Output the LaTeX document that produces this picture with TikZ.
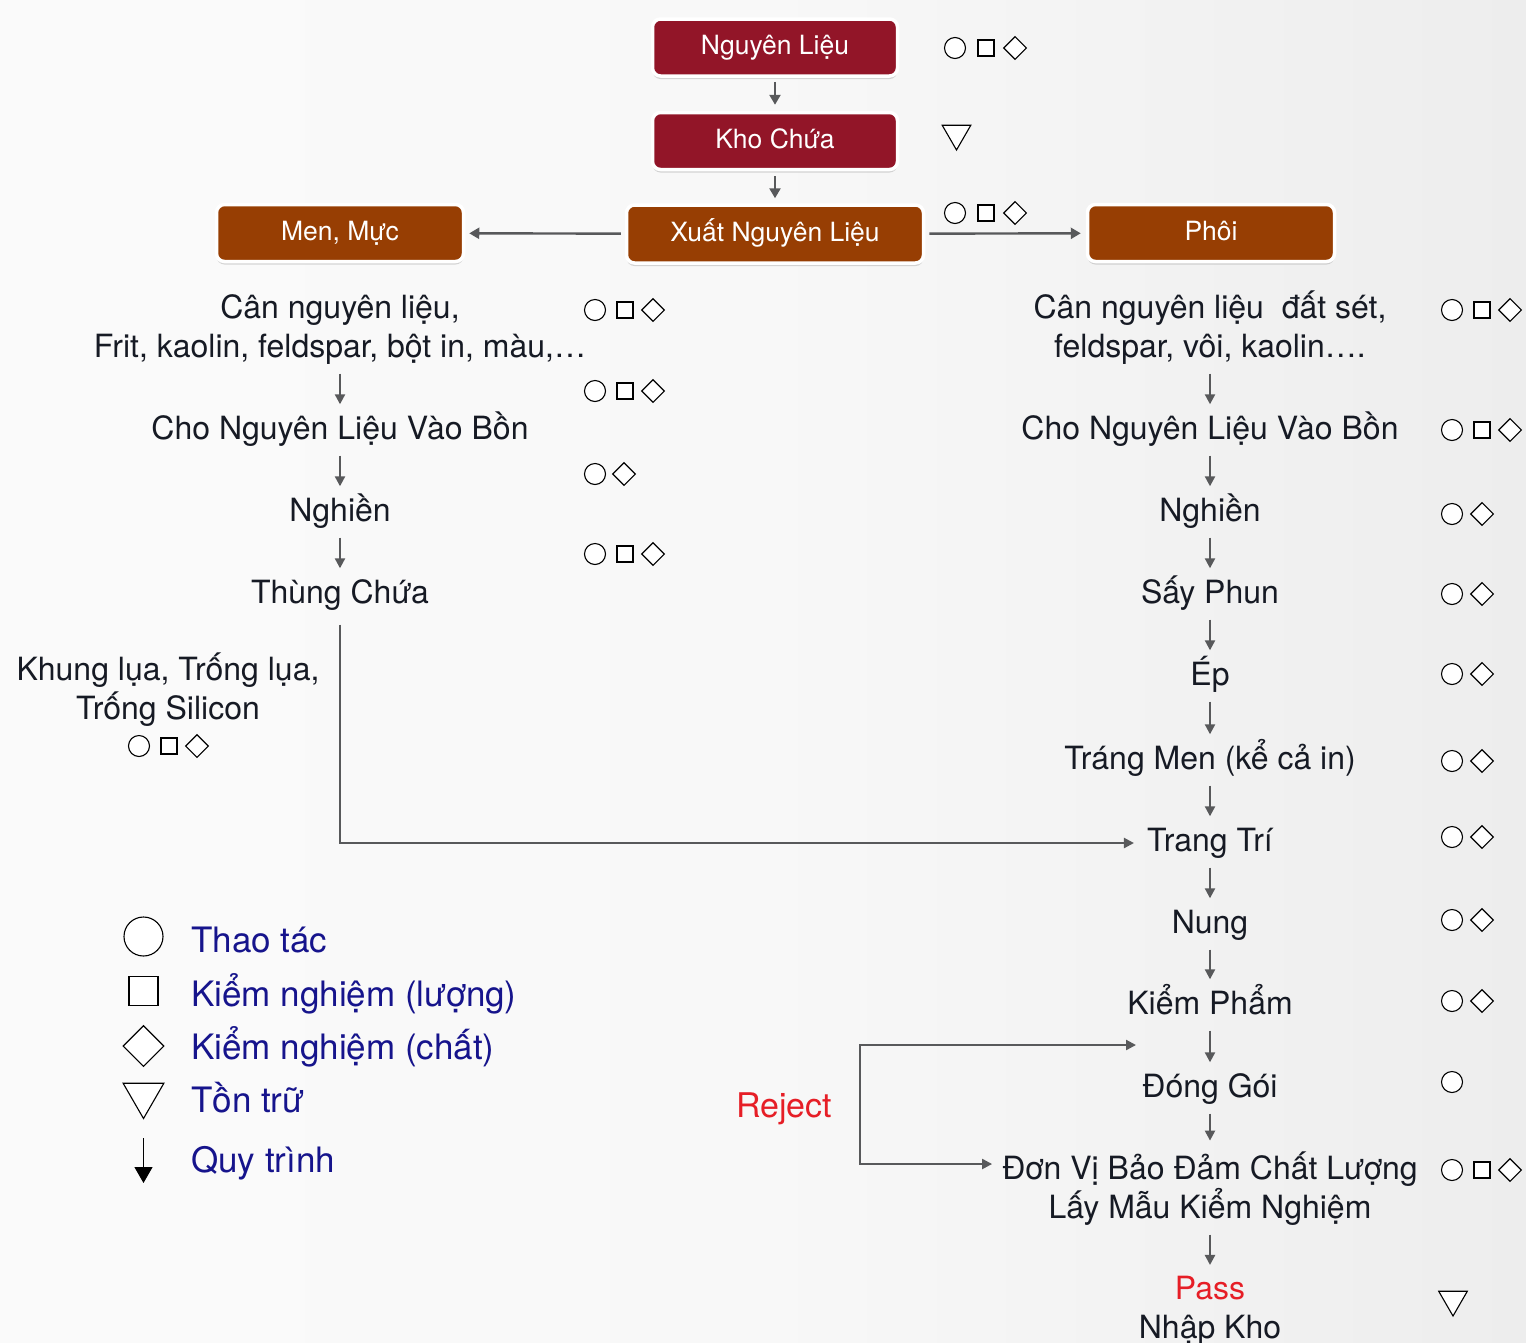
\documentclass[tikz,border=0pt]{standalone}
\usepackage{fontspec}
\setmainfont{TeX Gyre Heros}
\usetikzlibrary{arrows.meta,shapes.geometric,shadows,calc}
\definecolor{boxred}{RGB}{146,21,40}
\definecolor{boxorg}{RGB}{151,62,3}
\definecolor{txtc}{RGB}{22,26,36}
\definecolor{legc}{RGB}{22,20,140}
\definecolor{rejc}{RGB}{230,30,38}
\definecolor{arrc}{RGB}{88,89,91}
\definecolor{bgA}{RGB}{253,253,253}
\definecolor{bgB}{RGB}{248,248,248}
\definecolor{bgC}{RGB}{237,237,237}
\definecolor{bgD}{RGB}{220,220,220}
\pgfdeclarehorizontalshading{bgshade}{100bp}{color(0bp)=(bgA); color(50bp)=(bgB); color(75bp)=(bgC); color(100bp)=(bgD)}
\newcommand\txtM{\fontsize{32}{39}\selectfont}
\newcommand\txtB{\fontsize{26.5}{31}\selectfont}
\newcommand\txtL{\fontsize{35}{42}\selectfont}
\newcommand\txtR{\fontsize{34}{40}\selectfont}
\begin{document}
\begin{tikzpicture}[x=1pt,y=-1pt,
  box/.style={rounded corners=8pt, draw=white, line width=3.5pt, text=white, font=\txtB,
    minimum height=57pt, inner sep=0pt, text height=19pt, text depth=4.5pt,
    drop shadow={shadow xshift=0pt, shadow yshift=-3pt, opacity=0.3}},
  redbox/.style={box, fill=boxred, minimum width=245pt},
  orgbox/.style={box, fill=boxorg},
  lbl/.style={font=\txtM, text=txtc, inner sep=0pt, text height=24pt, text depth=7pt},
  lbltwo/.style={font=\txtM, text=txtc, inner sep=0pt, align=center, anchor=base},
  legtxt/.style={font=\txtL, text=legc, inner sep=0pt, anchor=base west},
  symline/.style={draw=black, fill=white, line width=1.1pt, inner sep=0pt},
  symC/.style={symline, circle, minimum size=21pt},
  symS/.style={symline, rectangle, minimum size=16pt},
  symD/.style={symline, diamond, minimum size=23pt},
  symT/.style={symline, regular polygon, regular polygon sides=3, shape border rotate=180, minimum size=33pt},
  arrb/.style={draw=arrc, line width=2.4pt, -{Triangle[length=10pt,width=11pt]}},
  arr/.style={draw=arrc, line width=2.2pt, -{Triangle[length=10pt,width=10pt]}},
  flow/.style={arr, shorten <=9pt, shorten >=11pt},
  arrboth/.style={draw=arrc, line width=2.2pt, {Triangle[length=10pt,width=10pt]}-{Triangle[length=10pt,width=10pt]}}
]
\useasboundingbox (0,0) rectangle (1526,1342);
\fill[shading=bgshade] (0,0) rectangle (1526,1342);

% top boxes
\node[redbox] (nl) at (775,47.5) {Nguyên Liệu};
\node[redbox] (kc) at (775,141) {Kho Chứa};
\node[orgbox, minimum width=297pt, minimum height=58pt] (xnl) at (775,234) {Xuất Nguyên Liệu};
\node[orgbox, minimum width=247pt] (mm) at (340,233) {Men, Mực};
\node[orgbox, minimum width=247pt] (phoi) at (1211,233) {Phôi};

\draw[arrb, shorten <=4pt, shorten >=6pt] (nl) -- (kc);
\draw[arrb, shorten <=5pt, shorten >=5pt] (kc) -- (xnl);
\draw[arrb, shorten <=4pt, shorten >=4pt] (xnl) -- (mm);
\draw[arrb, shorten <=4pt, shorten >=5pt] (xnl) -- (phoi);

% top symbols
\node[symC] (t1c) at (955,48) {};
\node[symS] (t1s) at (986,48) {};
\node[symD] (t1d) at (1015,48) {};
\node[symT] (t2t) at (956.5,133.5) {};
\node[symC] (t3c) at (955,213) {};
\node[symS] (t3s) at (986,213) {};
\node[symD] (t3d) at (1015,213) {};

% left column
\node[lbltwo] (l1) at (340,357.5) {Cân nguyên liệu,\\Frit, kaolin, feldspar, bột in, màu,…};
\node[lbl] (l2) at (340,431) {Cho Nguyên Liệu Vào Bồn};
\node[lbl] (l3) at (340,513) {Nghiền};
\node[lbl] (l4) at (340,595) {Thùng Chứa};
\draw[flow] (l1) -- (l2);
\draw[flow] (l2) -- (l3);
\draw[flow] (l3) -- (l4);

\node[symC] (a1c) at (595,310) {};
\node[symS] (a1s) at (625,310) {};
\node[symD] (a1d) at (653,310) {};
\node[symC] (a2c) at (595,391) {};
\node[symS] (a2s) at (625,391) {};
\node[symD] (a2d) at (653,391) {};
\node[symC] (a3c) at (595,474) {};
\node[symD] (a3d) at (624,474) {};
\node[symC] (a4c) at (595,554) {};
\node[symS] (a4s) at (625,554) {};
\node[symD] (a4d) at (653,554) {};

\node[lbltwo] (kh) at (168,719.5) {Khung lụa, Trống lụa,\\Trống Silicon};
\node[symC] (k1c) at (139,746) {};
\node[symS] (k1s) at (169,746) {};
\node[symD] (k1d) at (197,746) {};

% right column
\node[lbltwo] (r1) at (1210,357.5) {Cân nguyên liệu\ \ đất sét,\\feldspar, vôi, kaolin….};
\node[lbl] (r2) at (1210,431) {Cho Nguyên Liệu Vào Bồn};
\node[lbl] (r3) at (1210,513) {Nghiền};
\node[lbl] (r4) at (1210,595) {Sấy Phun};
\node[lbl] (r5) at (1210,677) {Ép};
\node[lbl] (r6) at (1210,761) {Tráng Men (kể cả in)};
\node[lbl] (r7) at (1210,843) {Trang Trí};
\node[lbl] (r8) at (1210,925) {Nung};
\node[lbl] (r9) at (1210,1006) {Kiểm Phẩm};
\node[lbl] (r10) at (1210,1089) {Đóng Gói};
\node[lbltwo] (r11) at (1210,1218.5) {Đơn Vị Bảo Đảm Chất Lượng\\Lấy Mẫu Kiểm Nghiệm};
\node[lbltwo] (r12) at (1210,1338.5) {\textcolor{rejc}{Pass}\\Nhập Kho};
\draw[flow] (r1) -- (r2);
\draw[flow] (r2) -- (r3);
\draw[flow] (r3) -- (r4);
\draw[flow] (r4) -- (r5);
\draw[flow] (r5) -- (r6);
\draw[flow] (r6) -- (r7);
\draw[flow] (r7) -- (r8);
\draw[flow] (r8) -- (r9);
\draw[flow] (r9) -- (r10);
\draw[flow] (r10) -- (r11);
\draw[flow] (r11) -- (r12);

\node[symC] (b1c) at (1452,310) {};
\node[symS] (b1s) at (1482,310) {};
\node[symD] (b1d) at (1510,310) {};
\node[symC] (b2c) at (1452,430) {};
\node[symS] (b2s) at (1482,430) {};
\node[symD] (b2d) at (1510,430) {};
\node[symC] (b3c) at (1452,514) {};
\node[symD] (b3d) at (1482,514) {};
\node[symC] (b4c) at (1452,594) {};
\node[symD] (b4d) at (1482,594) {};
\node[symC] (b5c) at (1452,674) {};
\node[symD] (b5d) at (1482,674) {};
\node[symC] (b6c) at (1452,761) {};
\node[symD] (b6d) at (1482,761) {};
\node[symC] (b7c) at (1452,837) {};
\node[symD] (b7d) at (1482,837) {};
\node[symC] (b8c) at (1452,920) {};
\node[symD] (b8d) at (1482,920) {};
\node[symC] (b9c) at (1452,1001) {};
\node[symD] (b9d) at (1482,1001) {};
\node[symC] (b10c) at (1452,1082) {};
\node[symC] (b11c) at (1452,1170) {};
\node[symS] (b11s) at (1482,1170) {};
\node[symD] (b11d) at (1510,1170) {};
\node[symT] (b12t) at (1453,1299.5) {};

% long connector to Trang Tri
\draw[arr, shorten <=14pt, shorten >=13pt] (l4) |- (r7);

% reject loop
\node[font=\txtR, text=rejc, inner sep=0pt, anchor=base] (rej) at (784,1117) {Reject};
\coordinate (rjA) at (1136,1045);
\coordinate (rjB) at (860,1045);
\coordinate (rjC) at (860,1164);
\draw[arrboth, shorten >=10pt] (rjA) -- (rjB) -- (rjC) -- (rjC -| r11.west);

% legend
\node[symC, minimum size=39pt] (gc) at (143.5,936.5) {};
\node[symS, minimum size=29pt] (gs) at (143.5,991) {};
\node[symD, minimum size=41pt] (gd) at (143.5,1046) {};
\node[symT, minimum size=47pt] (gt) at (143.5,1095) {};
\coordinate (ga1) at (143.5,1138);
\coordinate (ga2) at (143.5,1183);
\draw[black, line width=1.3pt, -{Triangle[length=16pt,width=18pt]}] (ga1) -- (ga2);
\node[legtxt] (g1) at (191,952) {Thao tác};
\node[legtxt] (g2) at (191,1006) {Kiểm nghiệm (lượng)};
\node[legtxt] (g3) at (191,1059) {Kiểm nghiệm (chất)};
\node[legtxt] (g4) at (191,1112) {Tồn trữ};
\node[legtxt] (g5) at (191,1172) {Quy trình};
\end{tikzpicture}
\end{document}
